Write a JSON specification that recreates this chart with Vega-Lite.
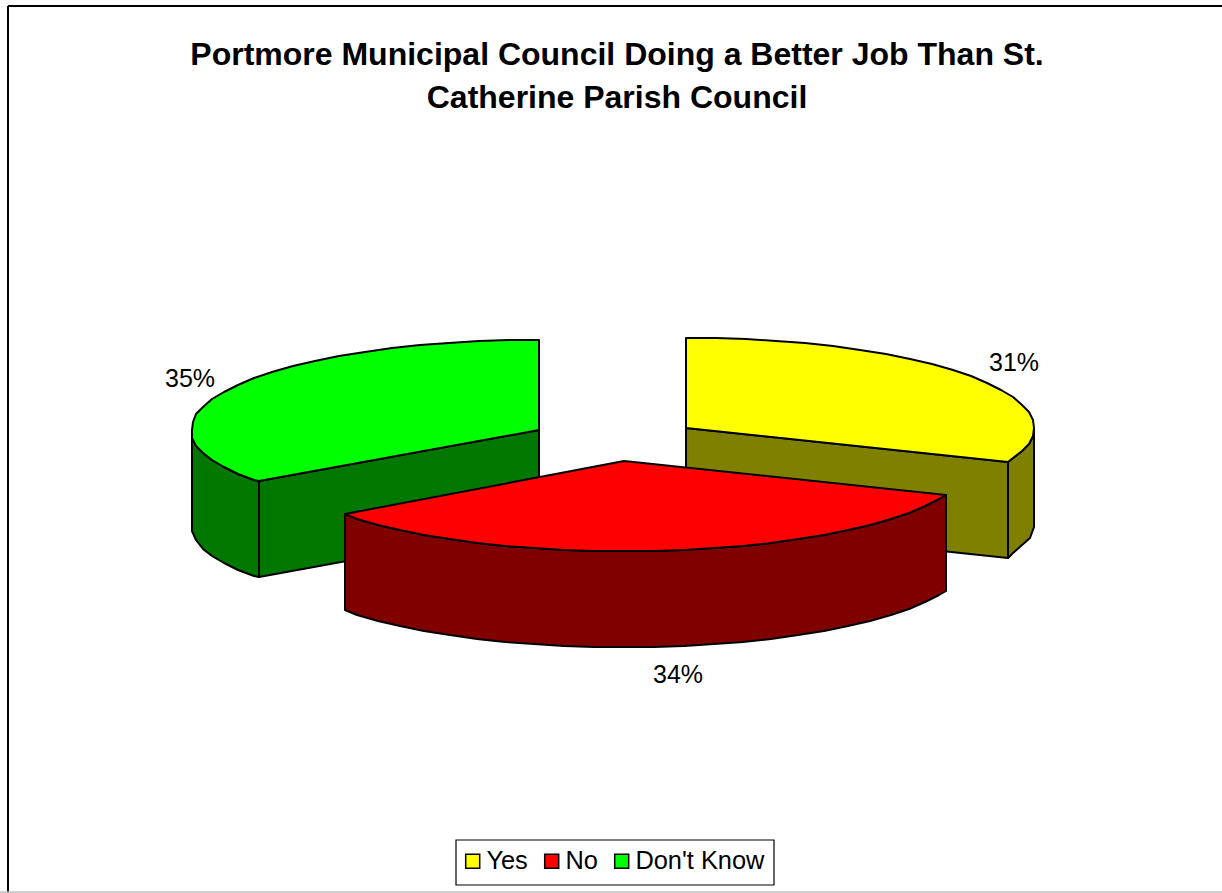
{
  "$schema": "https://vega.github.io/schema/vega-lite/v6.json",
  "width": 1222,
  "height": 893,
  "padding": 0,
  "autosize": {"type": "none"},
  "background": "white",
  "config": {"view": {"stroke": null}, "font": "Liberation Sans"},
  "title": {
    "text": ["Portmore Municipal Council Doing a Better Job Than St.", "Catherine Parish Council"],
    "font": "Liberation Sans",
    "fontSize": 32,
    "fontWeight": "bold",
    "color": "black",
    "anchor": "middle",
    "frame": "group",
    "orient": "top",
    "offset": -115,
    "lineHeight": 43,
    "dx": 6
  },
  "datasets": {
    "answers": [
      {"answer": "Yes", "share": 0.31, "labelX": 1014, "labelY": 363},
      {"answer": "No", "share": 0.34, "labelX": 678, "labelY": 675},
      {"answer": "Don't Know", "share": 0.35, "labelX": 190, "labelY": 379}
    ],
    "faces": [
      {"face": "Yes cut", "seq": 0, "x": 686, "y": 428},
      {"face": "Yes cut", "seq": 1, "x": 1008, "y": 462},
      {"face": "Yes cut", "seq": 2, "x": 1008, "y": 558},
      {"face": "Yes cut", "seq": 3, "x": 686, "y": 524},
      {"face": "Yes cut", "seq": 4, "x": 686, "y": 428},

      {"face": "Yes rim", "seq": 0, "x": 1008, "y": 462},
      {"face": "Yes rim", "seq": 1, "x": 1013, "y": 458},
      {"face": "Yes rim", "seq": 2, "x": 1022, "y": 451},
      {"face": "Yes rim", "seq": 3, "x": 1029, "y": 444},
      {"face": "Yes rim", "seq": 4, "x": 1033, "y": 436},
      {"face": "Yes rim", "seq": 5, "x": 1034, "y": 428},
      {"face": "Yes rim", "seq": 6, "x": 1034, "y": 527},
      {"face": "Yes rim", "seq": 7, "x": 1030, "y": 538},
      {"face": "Yes rim", "seq": 8, "x": 1022, "y": 545},
      {"face": "Yes rim", "seq": 9, "x": 1013, "y": 553},
      {"face": "Yes rim", "seq": 10, "x": 1008, "y": 558},
      {"face": "Yes rim", "seq": 11, "x": 1008, "y": 462},

      {"face": "Yes top", "seq": 0, "x": 686, "y": 428},
      {"face": "Yes top", "seq": 1, "x": 686, "y": 338},
      {"face": "Yes top", "seq": 2, "x": 716, "y": 338},
      {"face": "Yes top", "seq": 3, "x": 746, "y": 339},
      {"face": "Yes top", "seq": 4, "x": 776, "y": 341},
      {"face": "Yes top", "seq": 5, "x": 805, "y": 343},
      {"face": "Yes top", "seq": 6, "x": 833, "y": 346},
      {"face": "Yes top", "seq": 7, "x": 860, "y": 350},
      {"face": "Yes top", "seq": 8, "x": 886, "y": 354},
      {"face": "Yes top", "seq": 9, "x": 910, "y": 359},
      {"face": "Yes top", "seq": 10, "x": 932, "y": 364},
      {"face": "Yes top", "seq": 11, "x": 953, "y": 370},
      {"face": "Yes top", "seq": 12, "x": 971, "y": 376},
      {"face": "Yes top", "seq": 13, "x": 987, "y": 383},
      {"face": "Yes top", "seq": 14, "x": 1001, "y": 390},
      {"face": "Yes top", "seq": 15, "x": 1013, "y": 397},
      {"face": "Yes top", "seq": 16, "x": 1022, "y": 405},
      {"face": "Yes top", "seq": 17, "x": 1029, "y": 412},
      {"face": "Yes top", "seq": 18, "x": 1033, "y": 420},
      {"face": "Yes top", "seq": 19, "x": 1034, "y": 428},
      {"face": "Yes top", "seq": 20, "x": 1033, "y": 436},
      {"face": "Yes top", "seq": 21, "x": 1029, "y": 444},
      {"face": "Yes top", "seq": 22, "x": 1022, "y": 451},
      {"face": "Yes top", "seq": 23, "x": 1013, "y": 458},
      {"face": "Yes top", "seq": 24, "x": 1008, "y": 462},
      {"face": "Yes top", "seq": 25, "x": 686, "y": 428},

      {"face": "Don't Know cut", "seq": 0, "x": 259, "y": 481},
      {"face": "Don't Know cut", "seq": 1, "x": 539, "y": 430},
      {"face": "Don't Know cut", "seq": 2, "x": 539, "y": 526},
      {"face": "Don't Know cut", "seq": 3, "x": 259, "y": 577},
      {"face": "Don't Know cut", "seq": 4, "x": 259, "y": 481},

      {"face": "Don't Know rim", "seq": 0, "x": 192, "y": 430},
      {"face": "Don't Know rim", "seq": 1, "x": 192, "y": 438},
      {"face": "Don't Know rim", "seq": 2, "x": 196, "y": 446},
      {"face": "Don't Know rim", "seq": 3, "x": 203, "y": 453},
      {"face": "Don't Know rim", "seq": 4, "x": 212, "y": 460},
      {"face": "Don't Know rim", "seq": 5, "x": 224, "y": 467},
      {"face": "Don't Know rim", "seq": 6, "x": 238, "y": 474},
      {"face": "Don't Know rim", "seq": 7, "x": 254, "y": 480},
      {"face": "Don't Know rim", "seq": 8, "x": 259, "y": 481},
      {"face": "Don't Know rim", "seq": 9, "x": 259, "y": 577},
      {"face": "Don't Know rim", "seq": 10, "x": 254, "y": 576},
      {"face": "Don't Know rim", "seq": 11, "x": 238, "y": 570},
      {"face": "Don't Know rim", "seq": 12, "x": 224, "y": 563},
      {"face": "Don't Know rim", "seq": 13, "x": 212, "y": 556},
      {"face": "Don't Know rim", "seq": 14, "x": 203, "y": 549},
      {"face": "Don't Know rim", "seq": 15, "x": 196, "y": 540},
      {"face": "Don't Know rim", "seq": 16, "x": 192, "y": 531},
      {"face": "Don't Know rim", "seq": 17, "x": 192, "y": 430},

      {"face": "Don't Know top", "seq": 0, "x": 539, "y": 430},
      {"face": "Don't Know top", "seq": 1, "x": 539, "y": 340},
      {"face": "Don't Know top", "seq": 2, "x": 509, "y": 340},
      {"face": "Don't Know top", "seq": 3, "x": 479, "y": 341},
      {"face": "Don't Know top", "seq": 4, "x": 449, "y": 343},
      {"face": "Don't Know top", "seq": 5, "x": 420, "y": 345},
      {"face": "Don't Know top", "seq": 6, "x": 392, "y": 348},
      {"face": "Don't Know top", "seq": 7, "x": 365, "y": 352},
      {"face": "Don't Know top", "seq": 8, "x": 339, "y": 356},
      {"face": "Don't Know top", "seq": 9, "x": 315, "y": 361},
      {"face": "Don't Know top", "seq": 10, "x": 293, "y": 366},
      {"face": "Don't Know top", "seq": 11, "x": 272, "y": 372},
      {"face": "Don't Know top", "seq": 12, "x": 254, "y": 378},
      {"face": "Don't Know top", "seq": 13, "x": 238, "y": 385},
      {"face": "Don't Know top", "seq": 14, "x": 224, "y": 392},
      {"face": "Don't Know top", "seq": 15, "x": 212, "y": 399},
      {"face": "Don't Know top", "seq": 16, "x": 203, "y": 407},
      {"face": "Don't Know top", "seq": 17, "x": 196, "y": 414},
      {"face": "Don't Know top", "seq": 18, "x": 193, "y": 422},
      {"face": "Don't Know top", "seq": 19, "x": 192, "y": 430},
      {"face": "Don't Know top", "seq": 20, "x": 192, "y": 438},
      {"face": "Don't Know top", "seq": 21, "x": 196, "y": 446},
      {"face": "Don't Know top", "seq": 22, "x": 203, "y": 453},
      {"face": "Don't Know top", "seq": 23, "x": 212, "y": 460},
      {"face": "Don't Know top", "seq": 24, "x": 224, "y": 467},
      {"face": "Don't Know top", "seq": 25, "x": 238, "y": 474},
      {"face": "Don't Know top", "seq": 26, "x": 254, "y": 480},
      {"face": "Don't Know top", "seq": 27, "x": 259, "y": 481},
      {"face": "Don't Know top", "seq": 28, "x": 539, "y": 430},

      {"face": "No rim", "seq": 0, "x": 946, "y": 495},
      {"face": "No rim", "seq": 1, "x": 939, "y": 499},
      {"face": "No rim", "seq": 2, "x": 925, "y": 506},
      {"face": "No rim", "seq": 3, "x": 909, "y": 513},
      {"face": "No rim", "seq": 4, "x": 891, "y": 519},
      {"face": "No rim", "seq": 5, "x": 870, "y": 525},
      {"face": "No rim", "seq": 6, "x": 848, "y": 530},
      {"face": "No rim", "seq": 7, "x": 824, "y": 535},
      {"face": "No rim", "seq": 8, "x": 798, "y": 539},
      {"face": "No rim", "seq": 9, "x": 771, "y": 543},
      {"face": "No rim", "seq": 10, "x": 743, "y": 546},
      {"face": "No rim", "seq": 11, "x": 714, "y": 548},
      {"face": "No rim", "seq": 12, "x": 684, "y": 550},
      {"face": "No rim", "seq": 13, "x": 654, "y": 551},
      {"face": "No rim", "seq": 14, "x": 624, "y": 551},
      {"face": "No rim", "seq": 15, "x": 594, "y": 551},
      {"face": "No rim", "seq": 16, "x": 564, "y": 550},
      {"face": "No rim", "seq": 17, "x": 534, "y": 548},
      {"face": "No rim", "seq": 18, "x": 505, "y": 546},
      {"face": "No rim", "seq": 19, "x": 477, "y": 543},
      {"face": "No rim", "seq": 20, "x": 450, "y": 539},
      {"face": "No rim", "seq": 21, "x": 424, "y": 535},
      {"face": "No rim", "seq": 22, "x": 400, "y": 530},
      {"face": "No rim", "seq": 23, "x": 378, "y": 525},
      {"face": "No rim", "seq": 24, "x": 357, "y": 519},
      {"face": "No rim", "seq": 25, "x": 345, "y": 514},
      {"face": "No rim", "seq": 26, "x": 345, "y": 610},
      {"face": "No rim", "seq": 27, "x": 357, "y": 615},
      {"face": "No rim", "seq": 28, "x": 378, "y": 621},
      {"face": "No rim", "seq": 29, "x": 400, "y": 626},
      {"face": "No rim", "seq": 30, "x": 424, "y": 631},
      {"face": "No rim", "seq": 31, "x": 450, "y": 635},
      {"face": "No rim", "seq": 32, "x": 477, "y": 639},
      {"face": "No rim", "seq": 33, "x": 505, "y": 642},
      {"face": "No rim", "seq": 34, "x": 534, "y": 644},
      {"face": "No rim", "seq": 35, "x": 564, "y": 646},
      {"face": "No rim", "seq": 36, "x": 594, "y": 647},
      {"face": "No rim", "seq": 37, "x": 624, "y": 647},
      {"face": "No rim", "seq": 38, "x": 654, "y": 647},
      {"face": "No rim", "seq": 39, "x": 684, "y": 646},
      {"face": "No rim", "seq": 40, "x": 714, "y": 644},
      {"face": "No rim", "seq": 41, "x": 743, "y": 642},
      {"face": "No rim", "seq": 42, "x": 771, "y": 639},
      {"face": "No rim", "seq": 43, "x": 798, "y": 635},
      {"face": "No rim", "seq": 44, "x": 824, "y": 631},
      {"face": "No rim", "seq": 45, "x": 848, "y": 626},
      {"face": "No rim", "seq": 46, "x": 870, "y": 621},
      {"face": "No rim", "seq": 47, "x": 891, "y": 615},
      {"face": "No rim", "seq": 48, "x": 909, "y": 609},
      {"face": "No rim", "seq": 49, "x": 925, "y": 602},
      {"face": "No rim", "seq": 50, "x": 939, "y": 595},
      {"face": "No rim", "seq": 51, "x": 946, "y": 591},
      {"face": "No rim", "seq": 52, "x": 946, "y": 495},

      {"face": "No top", "seq": 0, "x": 624, "y": 461},
      {"face": "No top", "seq": 1, "x": 946, "y": 495},
      {"face": "No top", "seq": 2, "x": 939, "y": 499},
      {"face": "No top", "seq": 3, "x": 925, "y": 506},
      {"face": "No top", "seq": 4, "x": 909, "y": 513},
      {"face": "No top", "seq": 5, "x": 891, "y": 519},
      {"face": "No top", "seq": 6, "x": 870, "y": 525},
      {"face": "No top", "seq": 7, "x": 848, "y": 530},
      {"face": "No top", "seq": 8, "x": 824, "y": 535},
      {"face": "No top", "seq": 9, "x": 798, "y": 539},
      {"face": "No top", "seq": 10, "x": 771, "y": 543},
      {"face": "No top", "seq": 11, "x": 743, "y": 546},
      {"face": "No top", "seq": 12, "x": 714, "y": 548},
      {"face": "No top", "seq": 13, "x": 684, "y": 550},
      {"face": "No top", "seq": 14, "x": 654, "y": 551},
      {"face": "No top", "seq": 15, "x": 624, "y": 551},
      {"face": "No top", "seq": 16, "x": 594, "y": 551},
      {"face": "No top", "seq": 17, "x": 564, "y": 550},
      {"face": "No top", "seq": 18, "x": 534, "y": 548},
      {"face": "No top", "seq": 19, "x": 505, "y": 546},
      {"face": "No top", "seq": 20, "x": 477, "y": 543},
      {"face": "No top", "seq": 21, "x": 450, "y": 539},
      {"face": "No top", "seq": 22, "x": 424, "y": 535},
      {"face": "No top", "seq": 23, "x": 400, "y": 530},
      {"face": "No top", "seq": 24, "x": 378, "y": 525},
      {"face": "No top", "seq": 25, "x": 357, "y": 519},
      {"face": "No top", "seq": 26, "x": 345, "y": 514},
      {"face": "No top", "seq": 27, "x": 624, "y": 461}
    ]
  },
  "layer": [
    {
      "data": {"values": [
        {"x": 8, "x2": 8, "y": 6, "y2": 893},
        {"x": 8, "x2": 1222, "y": 6, "y2": 6}
      ]},
      "mark": {"type": "rule", "color": "black", "strokeWidth": 2},
      "encoding": {
        "x": {"field": "x", "type": "quantitative", "scale": {"domain": [0, 1222], "nice": false, "zero": false}, "axis": null},
        "x2": {"field": "x2"},
        "y": {"field": "y", "type": "quantitative", "scale": {"domain": [893, 0], "nice": false, "zero": false}, "axis": null},
        "y2": {"field": "y2"}
      }
    },
    {
      "data": {"values": [{"x": 0, "x2": 1222, "y": 892}]},
      "mark": {"type": "rule", "color": "#c0c0c0", "strokeWidth": 1.5},
      "encoding": {
        "x": {"field": "x", "type": "quantitative", "axis": null},
        "x2": {"field": "x2"},
        "y": {"field": "y", "type": "quantitative", "axis": null}
      }
    },
    {
      "data": {"values": [{"x": 456, "x2": 774, "y": 840, "y2": 885}]},
      "mark": {"type": "rect", "fill": "white", "stroke": "black", "strokeWidth": 1.2},
      "encoding": {
        "x": {"field": "x", "type": "quantitative", "axis": null},
        "x2": {"field": "x2"},
        "y": {"field": "y", "type": "quantitative", "axis": null},
        "y2": {"field": "y2"}
      }
    },
    {
      "data": {"name": "faces"},
      "mark": {"type": "line", "stroke": "black", "strokeWidth": 2, "strokeJoin": "round"},
      "encoding": {
        "x": {"field": "x", "type": "quantitative", "axis": null},
        "y": {"field": "y", "type": "quantitative", "axis": null},
        "order": {"field": "seq", "type": "quantitative"},
        "fill": {
          "field": "face",
          "type": "nominal",
          "legend": null,
          "scale": {
            "domain": ["Yes cut", "Yes rim", "Yes top", "Don't Know cut", "Don't Know rim", "Don't Know top", "No rim", "No top"],
            "range": ["#808000", "#808000", "#ffff00", "#007800", "#007800", "#00ff00", "#800000", "#ff0000"]
          }
        }
      }
    },
    {
      "data": {"name": "answers"},
      "mark": {"type": "point", "filled": true, "size": 0},
      "encoding": {
        "x": {"field": "labelX", "type": "quantitative", "axis": null},
        "y": {"field": "labelY", "type": "quantitative", "axis": null},
        "color": {
          "field": "answer",
          "type": "nominal",
          "sort": ["Yes", "No", "Don't Know"],
          "scale": {"domain": ["Yes", "No", "Don't Know"], "range": ["#ffff00", "#ff0000", "#00ff00"]},
          "legend": {
            "title": null,
            "orient": "none",
            "legendX": 460,
            "legendY": 848,
            "direction": "horizontal",
            "columns": 3,
            "columnPadding": 11,
            "padding": 0,
            "symbolType": "square",
            "symbolSize": 196,
            "symbolOpacity": 1,
            "symbolStrokeColor": "black",
            "symbolStrokeWidth": 1.5,
            "labelFont": "Liberation Sans",
            "labelFontSize": 25.4,
            "labelColor": "black",
            "labelOffset": 1,
            "labelLimit": 300
          }
        }
      }
    },
    {
      "data": {"name": "answers"},
      "mark": {"type": "text", "font": "Liberation Sans", "fontSize": 25, "color": "black", "align": "center", "baseline": "middle"},
      "encoding": {
        "x": {"field": "labelX", "type": "quantitative", "axis": null},
        "y": {"field": "labelY", "type": "quantitative", "axis": null},
        "text": {"field": "share", "type": "quantitative", "format": ".0%"}
      }
    }
  ]
}
